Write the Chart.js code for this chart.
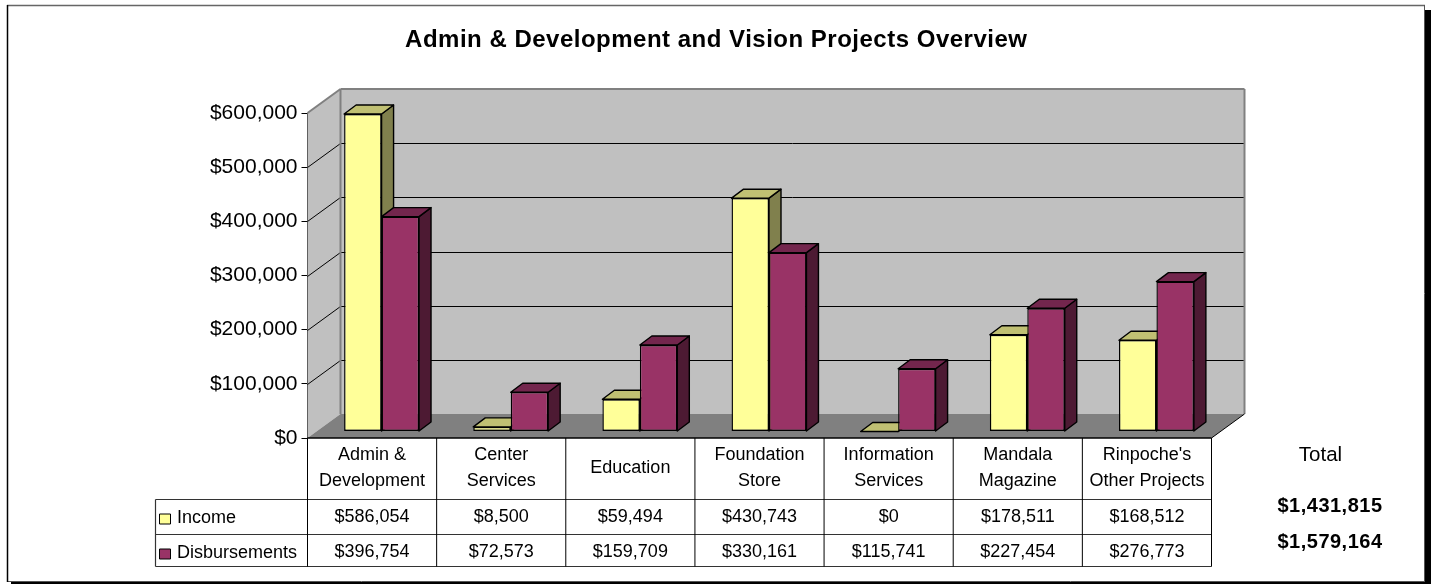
<!DOCTYPE html>
<html>
<head>
    <title>Admin & Development and Vision Projects Overview</title>
    <script src="https://cdn.jsdelivr.net/npm/chart.js"></script>
    <style>
        body {
            margin: 0;
            background: #fff;
        }
        canvas {
            display: block;
        }
    </style>
</head>
<body>
    <canvas id="chart" width="1432" height="584"></canvas>

    <script>
        const categories = [
            ['Admin &', 'Development'],
            ['Center', 'Services'],
            'Education',
            ['Foundation', 'Store'],
            ['Information', 'Services'],
            ['Mandala', 'Magazine'],
            ["Rinpoche's", 'Other Projects']
        ];
        const income = [586054, 8500, 59494, 430743, 0, 178511, 168512];
        const disbursements = [396754, 72573, 159709, 330161, 115741, 227454, 276773];
        const totals = ['$1,431,815', '$1,579,164'];
        const yTicks = [0, 100000, 200000, 300000, 400000, 500000, 600000];

        const FONT = '"Liberation Sans", Arial, sans-serif';
        const money = v => '$' + v.toLocaleString('en-US');

        // depth of the room, and how far into it the bars stand
        const WALL = { x: 33, y: -24 };
        const BAR_SHIFT = { x: 9.5, y: -6.5 };
        const BAR_DEPTH = { x: 12, y: -9 };

        function poly(ctx, pts, fill, stroke, lineWidth) {
            ctx.beginPath();
            pts.forEach((p, i) => i ? ctx.lineTo(p[0], p[1]) : ctx.moveTo(p[0], p[1]));
            ctx.closePath();
            if (fill) {
                ctx.fillStyle = fill;
                ctx.fill();
            }
            if (stroke) {
                ctx.strokeStyle = stroke;
                ctx.lineWidth = lineWidth || 1;
                ctx.stroke();
            }
        }

        function line(ctx, x1, y1, x2, y2, color, width) {
            ctx.beginPath();
            ctx.moveTo(x1, y1);
            ctx.lineTo(x2, y2);
            ctx.strokeStyle = color;
            ctx.lineWidth = width || 1;
            ctx.stroke();
        }

        function text(ctx, str, x, y, font, align, spacing) {
            ctx.font = font;
            ctx.letterSpacing = spacing || '0px';
            ctx.fillStyle = '#000';
            ctx.textAlign = align || 'center';
            ctx.textBaseline = 'middle';
            ctx.fillText(str, x, y);
        }

        // frame with drop shadow
        const framePlugin = {
            id: 'frame',
            beforeDraw(chart) {
                const ctx = chart.ctx;
                ctx.save();
                ctx.fillStyle = '#000';
                ctx.fillRect(11, 10, 1420, 574);
                ctx.fillStyle = '#fff';
                ctx.fillRect(7, 5, 1418, 577);
                line(ctx, 7, 5.5, 1425, 5.5, '#666', 1.5);
                line(ctx, 1424.5, 5, 1424.5, 582, '#555', 1);
                line(ctx, 7, 581.5, 1425, 581.5, '#555', 1);
                line(ctx, 7.5, 5, 7.5, 582, '#000', 1.5);
                ctx.restore();
            }
        };

        // walls, floor and gridlines behind the bars, then the bar sides and tops
        const roomPlugin = {
            id: 'room',
            beforeDatasetsDraw(chart) {
                const ctx = chart.ctx;
                const { left, right, top, bottom } = chart.chartArea;
                const y = chart.scales.y;
                const wx = WALL.x, wy = WALL.y;
                ctx.save();
                poly(ctx, [[left, top], [left + wx, top + wy], [left + wx, bottom + wy], [left, bottom]], '#c0c0c0');
                poly(ctx, [[left + wx, top + wy], [right + wx, top + wy], [right + wx, bottom + wy], [left + wx, bottom + wy]], '#c0c0c0');
                yTicks.slice(1, -1).forEach(v => {
                    const py = Math.round(y.getPixelForValue(v)) + 0.5;
                    line(ctx, left + wx, py + wy, right + wx, py + wy, '#000');
                    line(ctx, left, py, left + wx, py + wy, '#000');
                });
                poly(ctx, [[left, bottom], [right, bottom], [right + wx, bottom + wy], [left + wx, bottom + wy]], '#808080');
                line(ctx, left, top, left + wx, top + wy, '#808080', 2);
                line(ctx, left + wx, top + wy, right + wx, top + wy, '#808080', 2);
                line(ctx, right + wx, top + wy, right + wx, bottom + wy, '#808080', 2);
                line(ctx, left + wx, top + wy, left + wx, bottom + wy, '#808080', 2);
                line(ctx, right, bottom, right + wx, bottom + wy, '#000');

                // income first so the disbursement caps sit over its sides
                ctx.translate(BAR_SHIFT.x, BAR_SHIFT.y);
                ctx.lineJoin = 'round';
                const dx = BAR_DEPTH.x, dy = BAR_DEPTH.y;
                chart.data.datasets.forEach((ds, d) => {
                    chart.getDatasetMeta(d).data.forEach(bar => {
                        const l = bar.x - bar.width / 2, r = bar.x + bar.width / 2;
                        poly(ctx, [[r, bar.y], [r + dx, bar.y + dy], [r + dx, bar.base + dy], [r, bar.base]], ds.sideColor, '#000', 1.4);
                        poly(ctx, [[l, bar.y], [l + dx, bar.y + dy], [r + dx, bar.y + dy], [r, bar.y]], ds.topColor, '#000', 1.4);
                    });
                });
                ctx.restore();
            },
            beforeDatasetDraw(chart) {
                chart.ctx.save();
                chart.ctx.translate(BAR_SHIFT.x, BAR_SHIFT.y);
            },
            afterDatasetDraw(chart) {
                chart.ctx.restore();
            }
        };

        // title sits over the whole frame and is spaced out, the option has no setting for either
        const titlePlugin = {
            id: 'titleSpacing',
            afterInit(chart) {
                const block = chart.titleBlock;
                const draw = block.draw;
                block.draw = function () {
                    chart.ctx.save();
                    chart.ctx.letterSpacing = '0.5px';
                    chart.ctx.translate(110.5, 0);
                    draw.call(block);
                    chart.ctx.restore();
                };
            }
        };

        // data table under the plot, with the legend keys and totals
        const tablePlugin = {
            id: 'dataTable',
            afterDraw(chart) {
                const ctx = chart.ctx;
                const x = chart.scales.x;
                const { left, right, bottom } = chart.chartArea;
                const rows = [499.5, 534.5, 566.5];
                const tableLeft = 155.5;
                const step = (right - left) / categories.length;
                ctx.save();

                line(ctx, left, bottom, right, bottom, '#000', 1.5);
                line(ctx, tableLeft, rows[0], right, rows[0], '#333', 1.2);
                line(ctx, tableLeft, rows[1], right, rows[1], '#333', 1.2);
                line(ctx, tableLeft, rows[2], right, rows[2], '#333', 1.2);
                line(ctx, tableLeft, rows[0], tableLeft, rows[2], '#333', 1.2);
                for (let i = 0; i <= categories.length; i++) {
                    line(ctx, left + i * step, bottom, left + i * step, rows[2], '#000');
                }

                const font = '18px ' + FONT;
                chart.data.datasets.forEach((ds, r) => {
                    const cy = r === 0 ? 517 : 552;
                    poly(ctx, [[159.5, cy - 3], [170.5, cy - 3], [170.5, cy + 7], [159.5, cy + 7]], ds.backgroundColor, '#000', 1);
                    text(ctx, ds.label, 177, cy + 1, font, 'left');
                    ds.data.forEach((v, i) => {
                        text(ctx, money(v), x.getPixelForTick(i), cy, font);
                    });
                });

                text(ctx, 'Total', 1320.5, 455, '20.5px ' + FONT);
                text(ctx, totals[0], 1330, 506, 'bold 20px ' + FONT, 'center', '0.5px');
                text(ctx, totals[1], 1330, 542, 'bold 20px ' + FONT, 'center', '0.5px');
                ctx.restore();
            }
        };

        new Chart(document.getElementById('chart'), {
            type: 'bar',
            data: {
                labels: categories,
                datasets: [{
                    label: 'Income',
                    data: income,
                    backgroundColor: '#ffff99',
                    sideColor: '#80804d',
                    topColor: '#c0c073'
                }, {
                    label: 'Disbursements',
                    data: disbursements,
                    backgroundColor: '#993366',
                    sideColor: '#4d1a33',
                    topColor: '#73264d'
                }]
            },
            options: {
                responsive: false,
                animation: false,
                events: [],
                layout: { padding: { left: 0, right: 220.5, top: 0, bottom: 0 } },
                datasets: {
                    bar: {
                        categoryPercentage: 0.58,
                        barPercentage: 1,
                        borderColor: '#000',
                        borderWidth: 1.4,
                        borderSkipped: false,
                        clip: false
                    }
                },
                plugins: {
                    legend: { display: false },
                    tooltip: { enabled: false },
                    title: {
                        display: true,
                        text: 'Admin & Development and Vision Projects Overview',
                        color: '#000',
                        font: { family: FONT, size: 24, weight: 'bold', lineHeight: 1.2 },
                        padding: { top: 26.3, bottom: 57.9 }
                    }
                },
                scales: {
                    x: {
                        grid: { display: false },
                        border: { display: false },
                        afterFit(scale) { scale.height = 146; },
                        ticks: {
                            color: '#000',
                            maxRotation: 0,
                            autoSkip: false,
                            crossAlign: 'center',
                            padding: 9,
                            font: { family: FONT, size: 18, lineHeight: 1.45 }
                        }
                    },
                    y: {
                        min: 0,
                        max: 600000,
                        afterFit(scale) { scale.width = 307.5; },
                        afterBuildTicks(scale) { scale.ticks = yTicks.map(value => ({ value })); },
                        grid: { drawOnChartArea: false, color: '#000', tickLength: 6 },
                        border: { color: '#000' },
                        ticks: {
                            color: '#000',
                            padding: 4,
                            font: { family: FONT, size: 21 },
                            callback: v => money(v)
                        }
                    }
                }
            },
            plugins: [framePlugin, roomPlugin, titlePlugin, tablePlugin]
        });
    </script>
</body>
</html>
